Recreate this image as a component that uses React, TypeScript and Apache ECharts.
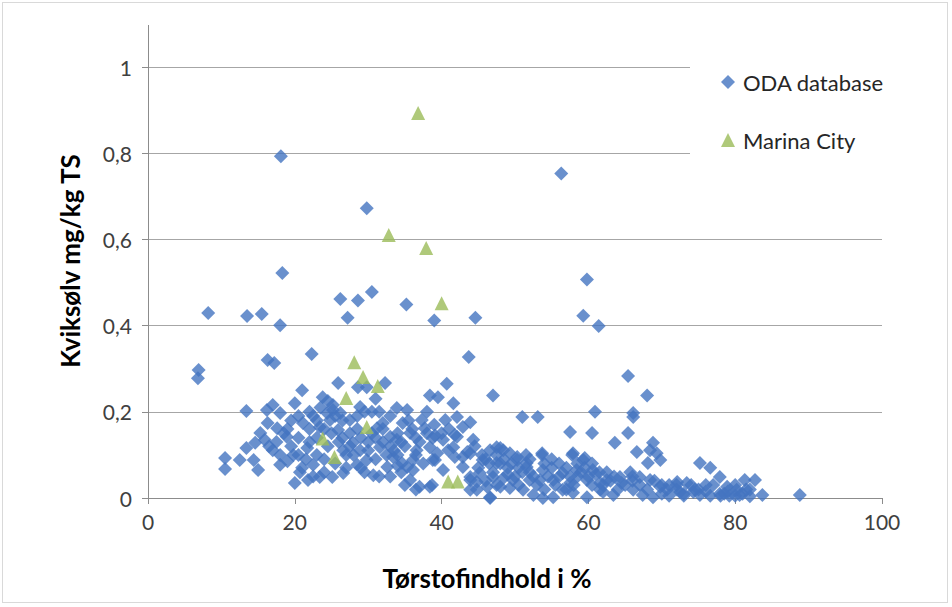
import React, { useEffect, useRef } from "react";
import * as echarts from "echarts";

// ---- Data (x = Tørstofindhold %, y = Kviksølv mg/kg TS) ----
const odaHigh: number[][] = [
  [18.1, 0.793], [56.3, 0.753], [29.8, 0.672], [18.3, 0.522], [59.8, 0.507],
  [26.2, 0.462], [28.6, 0.458], [30.5, 0.478], [35.2, 0.449], [8.2, 0.429],
  [13.5, 0.422], [15.5, 0.427], [18.0, 0.401], [27.2, 0.418], [39.0, 0.412],
  [44.6, 0.418], [59.3, 0.423], [61.4, 0.399], [43.7, 0.327], [22.3, 0.334],
  [16.3, 0.32], [17.2, 0.313], [6.9, 0.297], [6.8, 0.278], [65.4, 0.283],
  [21.0, 0.25], [25.9, 0.267], [32.3, 0.267], [40.7, 0.265], [28.6, 0.257],
  [29.8, 0.257], [68.0, 0.238], [47.0, 0.238], [38.4, 0.238], [39.5, 0.234],
];

const odaMid: number[][] = [
  [41.6, 0.22], [23.8, 0.234], [20.0, 0.22], [17.0, 0.216], [16.2, 0.204],
  [13.4, 0.202], [18.0, 0.197], [24.4, 0.197], [25.2, 0.204], [25.2, 0.216],
  [26.2, 0.197], [28.9, 0.211], [30.5, 0.2], [33.9, 0.209], [35.3, 0.204],
  [38.0, 0.2], [51.0, 0.188], [53.1, 0.188], [60.9, 0.2], [66.1, 0.197],
  [66.1, 0.188], [42.1, 0.188], [43.9, 0.176], [27.5, 0.181], [24.8, 0.181],
  [32.0, 0.174], [34.7, 0.174], [37.3, 0.181], [37.7, 0.162], [40.5, 0.181],
  [42.9, 0.165], [16.3, 0.174], [17.6, 0.162], [21.1, 0.174], [23.4, 0.165],
  [25.9, 0.158], [31.2, 0.162], [57.5, 0.153], [60.5, 0.151], [65.4, 0.151],
  [15.3, 0.151], [18.9, 0.142], [33.0, 0.142], [33.9, 0.135], [35.7, 0.151],
  [38.8, 0.139], [40.2, 0.135], [42.1, 0.142], [44.3, 0.135], [14.6, 0.128],
  [15.9, 0.135], [63.6, 0.128], [68.8, 0.128], [41.8, 0.146], [39.1, 0.145],
  [31.0, 0.23], [24.5, 0.225], [22.0, 0.2], [20.5, 0.19], [19.5, 0.18],
  [22.5, 0.19], [23.5, 0.21], [26.5, 0.18], [28.5, 0.19], [31.5, 0.2],
  [33.0, 0.19], [19.0, 0.16], [30.5, 0.15], [36.0, 0.16], [34.0, 0.15],
  [22.0, 0.16], [23.0, 0.18], [24.0, 0.16], [25.5, 0.19], [26.5, 0.14],
  [28.5, 0.16], [29.5, 0.2], [31.0, 0.14], [32.0, 0.16], [34.5, 0.13],
  [35.5, 0.18], [36.5, 0.14], [38.0, 0.15], [39.0, 0.17], [40.0, 0.15],
  [41.0, 0.16],
];

const odaLow: number[][] = [
  [13.4, 0.116], [17.0, 0.111], [21.7, 0.116], [27.9, 0.128], [28.9, 0.111],
  [31.6, 0.118], [26.6, 0.111], [36.6, 0.111], [36.1, 0.088], [38.4, 0.118],
  [39.4, 0.104], [41.6, 0.118], [42.9, 0.095], [43.9, 0.104], [47.5, 0.118],
  [48.4, 0.111], [49.3, 0.104], [50.3, 0.095], [51.6, 0.081], [46.6, 0.111],
  [48.0, 0.116], [45.6, 0.088], [47.5, 0.081], [50.3, 0.088], [53.7, 0.104],
  [51.6, 0.072], [53.8, 0.065], [57.9, 0.104], [59.3, 0.088], [53.7, 0.1],
  [57.8, 0.1], [59.5, 0.093], [66.6, 0.107], [68.4, 0.111], [69.3, 0.104],
  [69.8, 0.088], [68.1, 0.081], [10.5, 0.093], [10.5, 0.067], [12.5, 0.088],
  [14.4, 0.088], [15.0, 0.065], [18.0, 0.077], [19.8, 0.1], [20.0, 0.035],
  [20.7, 0.06], [22.5, 0.077], [21.8, 0.042], [23.4, 0.049], [25.1, 0.049],
  [29.8, 0.088], [28.5, 0.077], [33.4, 0.095], [34.6, 0.081], [32.6, 0.072],
  [35.3, 0.072], [36.1, 0.065], [38.8, 0.088], [30.7, 0.053], [35.7, 0.042],
  [37.0, 0.026], [38.4, 0.026], [43.9, 0.049], [44.8, 0.037], [46.2, 0.026],
  [43.9, 0.019], [46.6, 0.002], [26.6, 0.058], [40.9, 0.111], [41.8, 0.095],
  [43.5, 0.107], [42.9, 0.072], [40.2, 0.065], [38.7, 0.03], [39.1, 0.088],
  [19.5, 0.12], [20.5, 0.14], [21.5, 0.09], [22.0, 0.13], [23.0, 0.1],
  [24.0, 0.06], [24.5, 0.12], [25.0, 0.15], [25.5, 0.08], [26.0, 0.13],
  [27.0, 0.07], [27.5, 0.15], [28.0, 0.1], [29.0, 0.14], [29.5, 0.06],
  [30.0, 0.11], [31.0, 0.09], [32.0, 0.13], [32.5, 0.1], [33.5, 0.11],
  [34.5, 0.06], [35.0, 0.12], [36.5, 0.1], [37.0, 0.13], [37.5, 0.08],
  [34.0, 0.1], [18.5, 0.15], [17.5, 0.13], [16.5, 0.12], [18.0, 0.1],
  [19.0, 0.085], [21.0, 0.07], [22.5, 0.05], [24.0, 0.09], [23.0, 0.14],
  [27.0, 0.1], [29.0, 0.07], [31.5, 0.05], [33.0, 0.05], [35.0, 0.03],
  [36.5, 0.02], [34.0, 0.075], [20.5, 0.1], [27.5, 0.12], [30.0, 0.13],
  [33.0, 0.12], [44.5, 0.12], [45.5, 0.1], [46.5, 0.08], [47.5, 0.1],
  [48.5, 0.09], [49.5, 0.08], [50.5, 0.07], [51.5, 0.1],
];

const odaDense: number[][] = [
  [56.5, 0.058], [58.4, 0.065], [60.6, 0.065], [55.2, 0.042], [57.5, 0.035],
  [59.8, 0.042], [61.6, 0.035], [45.2, 0.058], [47.0, 0.049], [48.4, 0.046],
  [49.7, 0.042], [52.0, 0.042], [53.4, 0.042], [43.9, 0.042], [44.8, 0.019],
  [46.6, 0.0], [48.0, 0.026], [49.3, 0.023], [51.1, 0.019], [52.5, 0.007],
  [53.8, 0.0], [55.2, 0.002], [56.5, 0.019], [57.9, 0.012], [59.8, 0.002],
  [62.0, 0.014], [75.2, 0.081], [76.6, 0.07], [77.9, 0.049], [81.3, 0.042],
  [82.7, 0.042], [83.7, 0.007], [88.8, 0.007], [64.3, 0.049], [65.7, 0.06],
  [62.5, 0.042], [61.6, 0.019], [63.4, 0.007], [67.0, 0.049], [68.4, 0.042],
  [69.8, 0.026], [72.1, 0.037], [73.4, 0.035], [70.7, 0.019], [72.5, 0.014],
  [74.3, 0.014], [75.2, 0.007], [76.6, 0.005], [77.9, 0.01], [79.2, 0.005],
  [80.6, 0.007], [82.0, 0.004], [78.9, 0.026], [80.2, 0.019], [66.1, 0.019],
  [67.4, 0.007], [68.8, 0.002], [45.0, 0.07], [46.0, 0.09], [47.0, 0.06],
  [48.0, 0.08], [49.0, 0.07], [50.0, 0.05], [51.0, 0.06], [52.0, 0.09],
  [52.5, 0.05], [53.0, 0.03], [54.0, 0.08], [54.5, 0.05], [55.0, 0.07],
  [55.5, 0.03], [56.0, 0.05], [57.0, 0.07], [57.5, 0.05], [58.0, 0.03],
  [58.5, 0.08], [59.0, 0.06], [60.0, 0.05], [60.5, 0.03], [61.0, 0.055],
  [62.0, 0.03], [63.0, 0.04], [64.0, 0.02], [65.0, 0.03], [66.0, 0.04],
  [67.0, 0.03], [68.0, 0.02], [69.0, 0.04], [70.0, 0.01], [71.0, 0.03],
  [72.0, 0.02], [73.0, 0.01], [74.0, 0.03], [75.0, 0.02], [76.0, 0.015],
  [77.0, 0.03], [78.0, 0.005], [79.0, 0.015], [80.0, 0.005], [81.0, 0.01],
  [82.0, 0.02], [71.0, 0.005], [73.0, 0.005], [46.0, 0.04], [47.5, 0.03],
  [49.0, 0.055], [50.5, 0.03], [52.0, 0.06], [54.0, 0.02], [55.0, 0.09],
  [56.0, 0.08], [57.0, 0.02], [58.5, 0.05], [59.5, 0.07], [60.5, 0.08],
  [61.5, 0.06], [62.5, 0.06], [63.5, 0.05], [64.5, 0.035], [66.0, 0.05],
  [70.0, 0.03], [72.0, 0.03], [74.5, 0.02], [76.0, 0.03], [78.5, 0.01],
  [80.0, 0.03], [81.5, 0.02],
];

const marinaCity: number[][] = [
  [36.8, 0.893], [32.8, 0.61], [37.9, 0.58], [40.0, 0.452], [28.1, 0.315],
  [29.3, 0.281], [31.3, 0.26], [27.0, 0.232], [29.8, 0.165], [23.8, 0.138],
  [25.4, 0.095], [40.9, 0.038], [42.2, 0.038],
];

const seriesNames = ["ODA database", "Marina City"];
const xTitle = "Tørstofindhold i %";
const yTitle = "Kviksølv mg/kg TS";

const FONT = "Lato, 'Open Sans', sans-serif";

export default function App() {
  const ref = useRef<HTMLDivElement>(null);

  useEffect(() => {
    if (!ref.current) return;
    const chart = echarts.init(ref.current, undefined, { renderer: "svg" });
    const odaAll = [...odaHigh, ...odaMid, ...odaLow, ...odaDense];
    chart.setOption({
      animation: false,
      backgroundColor: "#ffffff",
      textStyle: { fontFamily: FONT },
      grid: { left: 148, right: 70, top: 67, bottom: 109, containLabel: false },
      xAxis: {
        type: "value",
        min: 0,
        max: 100,
        interval: 20,
        axisLine: { show: true, lineStyle: { color: "#8c8c8c", width: 1 } },
        axisTick: { show: true, length: 6, lineStyle: { color: "#8c8c8c" } },
        splitLine: { show: false },
        axisLabel: { color: "#404040", fontSize: 21, margin: 13, fontFamily: FONT },
      },
      yAxis: {
        type: "value",
        min: 0,
        max: 1,
        interval: 0.2,
        axisLine: { show: true, lineStyle: { color: "#8c8c8c", width: 1 } },
        axisTick: { show: true, length: 6, lineStyle: { color: "#8c8c8c" } },
        splitLine: { show: true, lineStyle: { color: "#a6a6a6", width: 1 } },
        axisLabel: {
          color: "#404040",
          fontSize: 21,
          margin: 16,
          fontFamily: FONT,
          formatter: (v: number) => String(Math.round(v * 10) / 10).replace(".", ","),
        },
      },
      legend: {
        orient: "vertical",
        left: 690,
        top: 50,
        padding: [21, 20, 30, 31],
        backgroundColor: "#ffffff",
        itemWidth: 14,
        itemHeight: 14,
        itemGap: 36,
        textStyle: { fontSize: 22, color: "#262626", fontFamily: FONT, padding: [0, 0, 0, 3] },
        data: [
          { name: seriesNames[0], icon: "diamond" },
          { name: seriesNames[1], icon: "triangle" },
        ],
      },
      graphic: [
        {
          type: "line",
          shape: { x1: 148.5, y1: 25, x2: 148.5, y2: 67 },
          style: { stroke: "#8c8c8c", lineWidth: 1 },
          silent: true,
        },
        {
          type: "text",
          x: 70,
          y: 261,
          rotation: Math.PI / 2,
          style: {
            text: yTitle,
            font: `bold 26px ${FONT}`,
            fill: "#000000",
            align: "center",
            verticalAlign: "middle",
          },
        },
        {
          type: "text",
          x: 487,
          y: 578,
          style: {
            text: xTitle,
            font: `bold 26px ${FONT}`,
            fill: "#000000",
            align: "center",
            verticalAlign: "middle",
          },
        },
      ],
      series: [
        {
          name: seriesNames[0],
          type: "scatter",
          symbol: "diamond",
          symbolSize: 14,
          itemStyle: { color: "#4374C0" },
          data: odaAll,
        },
        {
          name: seriesNames[1],
          type: "scatter",
          symbol: "triangle",
          symbolSize: 14,
          itemStyle: { color: "#9BBB59" },
          data: marinaCity,
        },
      ],
    });
    return () => chart.dispose();
  }, []);

  return (
    <div
      style={{
        position: "fixed",
        left: 0,
        top: 0,
        width: 952,
        height: 607,
        background: "#fff",
      }}
    >
      <div
        ref={ref}
        style={{ position: "absolute", left: 0, top: 0, width: 952, height: 607 }}
      />
      <div
        style={{
          position: "absolute",
          left: 2,
          top: 2,
          width: 946,
          height: 601,
          border: "1px solid #d9d9d9",
          boxSizing: "border-box",
          pointerEvents: "none",
        }}
      />
    </div>
  );
}
